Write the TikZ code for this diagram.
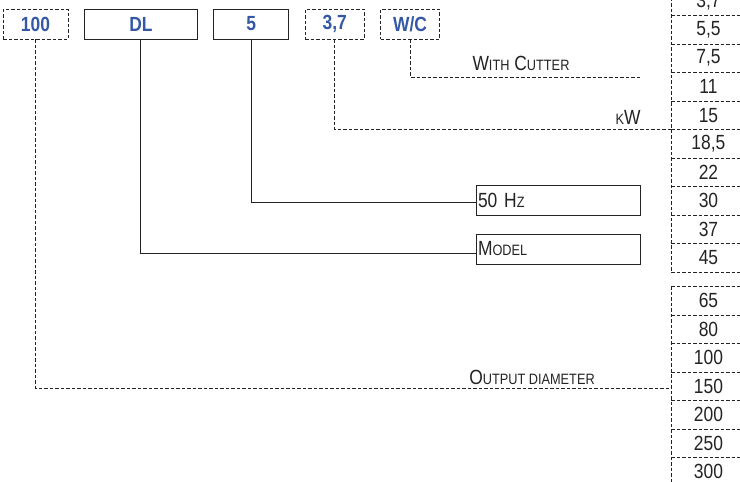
\documentclass[tikz,border=0pt]{standalone}
\usepackage{fontspec}
\setmainfont{Liberation Sans}[FakeStretch=0.85]
\usetikzlibrary{positioning}
\definecolor{codeblue}{RGB}{52,88,166}
\definecolor{ink}{RGB}{35,35,35}
\newcommand\sml[1]{{\fontsize{15}{15}\selectfont #1}}

\begin{document}
\begin{tikzpicture}[x=1pt, y=-1pt, line width=0.9pt, draw=ink,
    font=\fontsize{20.5}{22}\selectfont,
    dashln/.style={dash pattern=on 3.5pt off 2pt},
    codebox/.style={draw, minimum height=30pt, inner sep=0pt, text=codeblue,
      font=\fontsize{20.5}{22}\selectfont\bfseries},
    optbox/.style={codebox, dashln},
    fieldbox/.style={draw, minimum height=30pt, inner sep=2pt, text width=160pt,
      align=left, text=ink},
    lbl/.style={text=ink, inner sep=0pt, anchor=base},
    cell/.style={minimum width=74pt, minimum height=28.5pt, inner sep=0pt,
      anchor=north west, text=ink}]
  \useasboundingbox (0,0) rectangle (740,482);

  % code parts
  \node[optbox, minimum width=65pt] (n100) at (35.5,24) {100};
  \node[codebox, minimum width=113pt, right=15.5pt of n100] (nDL) {DL};
  \node[codebox, minimum width=75pt, right=15.5pt of nDL] (n5) {5};
  \node[optbox, minimum width=59pt, right=15.5pt of n5] (n37) {3,7};
  \node[optbox, minimum width=59pt, right=15.5pt of n37] (nWC) {W/C};

  % fields
  \node[fieldbox] (nHz) at (558,200) {50 H\sml{Z}};
  \node[fieldbox] (nModel) at (558,249) {M\sml{ODEL}};

  % kW column
  \foreach \v [count=\i] in {{3,7},{5,5},{7,5},11,15,{18,5},22,30,37,45}
    \node[cell] (p\i) at (671,-42+28.5*\i) {\v};
  \draw[dashln] (p1.north west) -- (p10.south west);
  \foreach \i in {1,...,10}
    \draw[dashln] (p\i.south west) -- (p\i.south east);

  % diameter column
  \foreach \v [count=\i] in {65,80,100,150,200,250,300}
    \node[cell] (d\i) at (671,257.5+28.5*\i) {\v};
  \draw[dashln] (d1.north west) -- (d7.south west);
  \draw[dashln] (d1.north west) -- (d1.north east);
  \foreach \i in {1,...,6}
    \draw[dashln] (d\i.south west) -- (d\i.south east);

  % labels
  \coordinate (cutEnd) at (642,77);
  \node[lbl] (tCut) at (521,70) {W\sml{ITH} C\sml{UTTER}};
  \node[lbl] (tkW) at (628,124) {\sml{K}W};
  \node[lbl] (tOut) at (532,384) {O\sml{UTPUT DIAMETER}};

  % connectors
  \draw[dashln] (nWC.south) |- (cutEnd);
  \draw[dashln] (n37.south) |- (p5.south west);
  \draw (n5.south) |- ([yshift=-2.5pt]nHz.west);
  \draw (nDL.south) |- ([yshift=-4pt]nModel.west);
  \draw[dashln] (n100.south) |- ([yshift=-2pt]d4.west);
\end{tikzpicture}
\end{document}
